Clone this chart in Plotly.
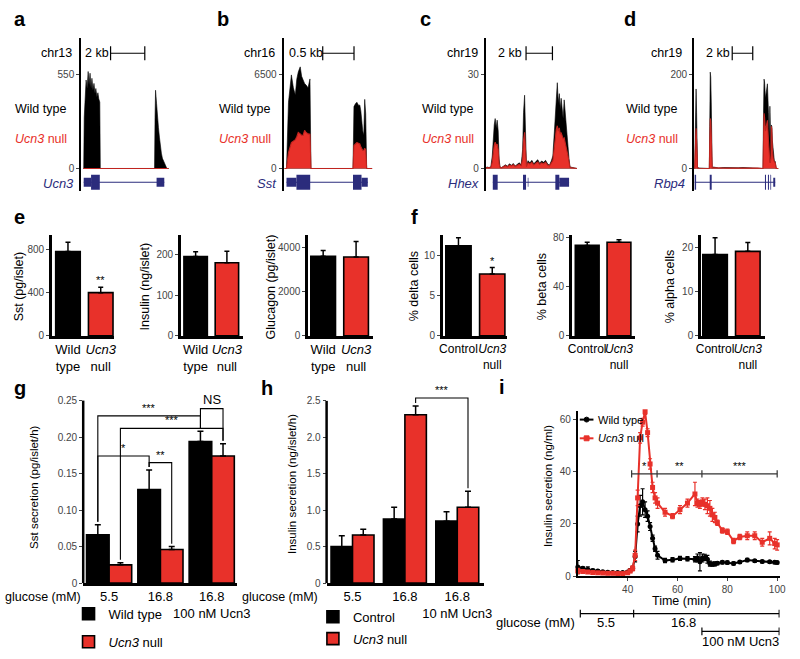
import plotly.graph_objects as go

W, H = 800, 659
FONT = 'Liberation Sans, Arial, Helvetica, sans-serif'
RED = '#e8312a'
NAVY = '#2b2c7c'
GRAY = '#444444'

# ---------------- data ----------------
# a-d: islet RNA-seq coverage, rows = (position in kb, wild type, Ucn3 null)
a_cov = [
    (0.0, 0, 0), (0.03, 0, 0), (0.06, 300, 0), (0.11, 430, 0), (0.17, 520, 0),
    (0.23, 470, 0), (0.29, 570, 0), (0.34, 490, 0), (0.40, 560, 0), (0.46, 470, 0),
    (0.51, 530, 0), (0.57, 460, 0), (0.63, 500, 0), (0.69, 440, 0), (0.74, 470, 0),
    (0.80, 420, 0), (0.86, 445, 0), (0.91, 410, 0), (0.97, 390, 0), (1.00, 0, 0),
    (4.17, 0, 0), (4.20, 300, 0), (4.23, 460, 0), (4.29, 380, 0), (4.34, 300, 0),
    (4.40, 240, 0), (4.46, 180, 0), (4.51, 130, 0), (4.57, 90, 0), (4.63, 60, 0),
    (4.69, 45, 0), (4.74, 30, 0), (4.80, 15, 0), (4.89, 0, 0), (5.00, 0, 0),
]
b_cov = [
    (0.0, 0, 0), (0.031, 0, 0), (0.0625, 4600, 1100), (0.086, 5500, 1500),
    (0.109, 6500, 1800), (0.141, 5600, 1900), (0.172, 5100, 2000), (0.195, 6200, 2200),
    (0.219, 6700, 2500), (0.25, 7060, 2400), (0.273, 6400, 2300), (0.297, 6150, 2300),
    (0.32, 5900, 2650), (0.344, 5800, 2500), (0.375, 5600, 2400), (0.406, 6220, 2380),
    (0.422, 0, 0), (1.094, 0, 0), (1.109, 4300, 1600), (1.133, 4500, 1700),
    (1.156, 4600, 1800), (1.18, 4400, 1750), (1.203, 4400, 1700), (1.219, 4000, 1500),
    (1.234, 3200, 1300), (1.25, 2600, 1250), (1.266, 2300, 1250), (1.281, 4800, 1400),
    (1.297, 3800, 1300), (1.3125, 0, 0), (1.40, 0, 0),
]
c_cov = [
    (0.0, 0, 0), (0.07, 0.5, 0.3), (0.22, 0.3, 0.2), (0.37, 0.5, 0.3), (0.48, 4, 2),
    (0.56, 11, 6), (0.63, 14, 7.5), (0.70, 16, 8.4), (0.78, 13, 7.5), (0.85, 15.5, 7.8),
    (0.93, 12, 6), (1.0, 3, 1.5), (1.07, 0.5, 0.3), (1.19, 0.3, 0.2), (1.33, 0.8, 0.6),
    (1.48, 1.2, 0.9), (1.63, 0.7, 0.5), (1.78, 1.5, 1.1), (1.93, 1, 0.8), (2.07, 1.6, 1.2),
    (2.22, 0.8, 0.6), (2.37, 1.3, 1.0), (2.52, 1.8, 1.3), (2.67, 1.2, 0.9), (2.78, 6, 3),
    (2.85, 18, 9), (2.93, 23.5, 11.6), (3.0, 12, 6), (3.07, 1, 0.6), (3.19, 2.5, 1.8),
    (3.33, 1.8, 1.4), (3.48, 2.6, 2.0), (3.63, 1.5, 1.1), (3.78, 2.2, 1.7), (3.93, 2.8, 2.1),
    (4.07, 1.7, 1.3), (4.22, 2.4, 1.8), (4.37, 2.0, 1.5), (4.52, 2.6, 2.0), (4.67, 1.5, 1.1),
    (4.81, 1.0, 0.8), (4.96, 2.5, 1.8), (5.07, 4, 2.5), (5.19, 12, 7), (5.26, 19, 11),
    (5.33, 22, 12.5), (5.41, 27.5, 13.7), (5.48, 21, 12), (5.56, 24, 13), (5.63, 19, 11),
    (5.7, 22.5, 11.5), (5.78, 20, 10.5), (5.85, 16, 9.5), (5.93, 22, 9.8), (6.0, 18, 8.5),
    (6.07, 15, 7.5), (6.15, 10, 6), (6.22, 7, 4), (6.3, 3, 2), (6.37, 0.5, 0.3), (6.9, 0, 0),
]
d_cov = [
    (0.0, 0, 0), (0.05, 0, 0), (0.095, 60, 30), (0.14, 150, 80), (0.19, 170, 86),
    (0.24, 120, 60), (0.29, 40, 20), (0.33, 2, 1), (0.48, 1, 0.5), (0.95, 0.5, 0.3),
    (1.48, 0, 0), (1.52, 90, 50), (1.57, 206, 107), (1.62, 195, 100), (1.67, 140, 70),
    (1.71, 40, 20), (1.76, 2, 1), (1.9, 3, 1.5), (2.38, 1, 0.5), (2.86, 2, 1),
    (3.33, 1.5, 0.8), (3.81, 2, 1), (4.29, 1.5, 0.8), (4.76, 2, 1), (5.24, 1.5, 0.8),
    (5.71, 2, 1), (6.19, 2, 1), (6.71, 0, 0), (6.76, 120, 70), (6.81, 191, 118),
    (6.86, 185, 110), (6.95, 150, 80), (7.05, 170, 90), (7.14, 181, 103), (7.24, 120, 60),
    (7.33, 60, 13), (7.38, 133, 13), (7.43, 100, 13), (7.48, 40, 20), (7.52, 93, 90),
    (7.57, 90, 85), (7.62, 60, 40), (7.71, 30, 20), (7.81, 17, 15), (7.9, 15, 12),
    (8.0, 0, 0), (8.2, 0, 0),
]
# gene models: (start kb, end kb, kind)
a_exons = [(0.03, 0.46, 'utr'), (0.46, 0.97, 'cds'), (4.29, 4.74, 'utr')]
b_exons = [(0.031, 0.19, 'utr'), (0.19, 0.41, 'cds'), (1.094, 1.23, 'cds'), (1.23, 1.33, 'utr')]
c_exons = [(0.52, 0.89, 'cds'), (2.81, 3.04, 'cds'), (3.17, 3.22, 'utr'),
           (5.26, 5.56, 'cds'), (5.56, 6.3, 'utr')]
d_exons = [(0.05, 0.19, 'cds'), (1.52, 1.71, 'cds'), (6.9, 7.0, 'cds'), (7.19, 7.29, 'cds'),
           (7.43, 7.5, 'cds'), (7.71, 7.9, 'utr')]
track_max = [550, 6500, 30, 200]
track_chrom = ['chr13', 'chr16', 'chr19', 'chr19']
track_gene = ['Ucn3', 'Sst', 'Hhex', 'Rbp4']
scale_bars = [(1.6, 2.0, '2 kb'), (0.61, 0.5, '0.5 kb'), (3.04, 2.0, '2 kb'), (3.71, 2.0, '2 kb')]

# e: islet hormone content
labels_e = ['Wild<br>type', '<i>Ucn3</i><br>null']
sst_content = [780, 400]
sst_content_err = [85, 50]
sst_content_sig = ['', '**']
insulin_content = [195, 180]
insulin_content_err = [12, 28]
glucagon_content = [3580, 3550]
glucagon_content_err = [270, 700]

# f: islet cell composition
labels_f = ['Control', '<i>Ucn3</i><br>null']
delta_pct = [11.2, 7.7]
delta_pct_err = [1.0, 0.8]
delta_pct_sig = ['', '*']
beta_pct = [73.5, 76.0]
beta_pct_err = [2.5, 2.0]
alpha_pct = [18.4, 19.1]
alpha_pct_err = [3.8, 2.0]

# g: somatostatin secretion
g_conditions = ['5.5', '16.8', '16.8<br>100 nM Ucn3']
g_wt = [0.066, 0.128, 0.194]
g_wt_err = [0.014, 0.027, 0.014]
g_null = [0.025, 0.046, 0.174]
g_null_err = [0.003, 0.004, 0.017]
g_ticks = [0, 0.05, 0.10, 0.15, 0.20, 0.25]
g_tick_text = ['0', '0.05', '0.10', '0.15', '0.20', '0.25']
g_brackets = [  # (series, group) -> (series, group), bracket level, label
    (('wt', 0), ('wt', 2), 0.229, '***'),
    (('null', 0), ('null', 2), 0.212, '***'),
    (('wt', 0), ('wt', 1), 0.174, '*'),
    (('wt', 1), ('null', 1), 0.165, '**'),
    (('wt', 2), ('null', 2), 0.239, 'NS'),
]

# h: insulin secretion
h_conditions = ['5.5', '16.8', '16.8<br>10 nM Ucn3']
h_ctrl = [0.50, 0.88, 0.85]
h_ctrl_err = [0.15, 0.16, 0.13]
h_null = [0.66, 2.31, 1.04]
h_null_err = [0.08, 0.12, 0.22]
h_ticks = [0, 0.5, 1.0, 1.5, 2.0, 2.5]
h_tick_text = ['0', '0.5', '1.0', '1.5', '2.0', '2.5']
h_brackets = [(('null', 1), ('null', 2), 2.54, '***')]

# i: perifusion insulin secretion
i_time = [20, 22, 24, 26, 28, 30, 32, 34, 36, 38, 40,
          41, 42, 43, 44, 45, 46, 47, 48, 49, 50, 51, 52,
          55, 58, 61, 64, 67,
          68, 69, 70, 71, 72, 73, 74, 75, 76,
          78, 80, 82.5, 85, 88, 91, 94, 97, 99, 100]
i_wt = [3.5, 3.0, 2.6, 2.2, 2.0, 1.7, 1.5, 1.4, 1.4, 1.4, 1.6,
        2.2, 3.0, 7.5, 20, 27, 28.5, 25.5, 23, 19, 14.5, 10.5, 8,
        6.0, 6.3, 6.8, 6.7, 6.5,
        7.0, 5.5, 7.0, 7.2, 6.5, 4.8, 4.6, 4.7, 5.0,
        5.3, 5.2, 4.9, 5.4, 6.2, 5.9, 5.6, 5.5, 5.3, 5.2]
i_wt_err = [2.5, 0.6, 1.0, 0.5, 0.5, 0.4, 0.4, 0.4, 0.4, 0.4, 0.5,
            0.6, 0.8, 2.0, 3.0, 4.0, 5.0, 3.0, 2.0, 1.5, 1.2, 1.0, 1.5,
            0.8, 0.8, 0.8, 0.8, 1.0,
            1.5, 3.5, 1.5, 1.2, 1.5, 1.0, 0.8, 0.8, 0.6,
            0.6, 0.6, 0.6, 0.5, 0.6, 0.5, 0.5, 0.5, 0.5, 0.5]
i_null = [2.0, 1.8, 1.6, 1.4, 1.3, 1.2, 1.1, 1.1, 1.0, 1.0, 1.3,
          2.0, 3.0, 8.0, 30, 53, 59, 63, 55, 43, 34, 30, 28,
          24.5, 23, 25.5, 28, 31.5,
          28, 27.5, 28.5, 27.5, 27, 26, 23.5, 22.5, 20.5,
          17.5, 17, 13.5, 15, 15.5, 15.5, 13, 14.5, 12.5, 12]
i_null_err = [1.0, 0.5, 0.5, 0.4, 0.4, 0.4, 0.4, 0.4, 0.4, 0.4, 0.5,
              0.6, 1.0, 2.0, 3.0, 2.0, 1.5, 1.0, 1.5, 2.0, 2.0, 2.0, 2.0,
              1.5, 1.0, 1.5, 1.5, 4.5,
              1.5, 1.5, 1.5, 2.0, 3.0, 3.0, 2.5, 2.0, 1.0,
              1.0, 1.0, 1.0, 1.0, 1.5, 1.5, 1.5, 2.5, 2.0, 2.0]
i_sig_edges = [41.6, 51.8, 69.8, 100.0]
i_sig_labels = ['*', '**', '***']
i_sig_level = 39.2
glucose_edges = [21.0, 42.4, 100.8]
glucose_levels = ['5.5', '16.8']
glucose_label_t = [31.5, 62.5]
ucn3_span = [69.8, 100.8]


# ---------------- helpers ----------------
def X(p):
    return p / W


def Y(p):
    return 1 - p / H


def key(n, letter):
    return f'{letter}axis{n if n > 1 else ""}'


def ref(n, letter):
    return f'{letter}{n if n > 1 else ""}'


fig = go.Figure()
layout = {}
shapes = []
annos = []


def note(text, x, y, size=12.5, color='black', xanchor='center', yanchor='middle',
         xref='paper', yref='paper', angle=0, yshift=0):
    annos.append(dict(text=text, x=x, y=y, xref=xref, yref=yref, showarrow=False,
                      xanchor=xanchor, yanchor=yanchor, textangle=angle, yshift=yshift,
                      font=dict(family=FONT, size=size, color=color)))


def line(x0, y0, x1, y1, xref='paper', yref='paper', width=1.2, color='black'):
    shapes.append(dict(type='line', x0=x0, y0=y0, x1=x1, y1=y1, xref=xref, yref=yref,
                       line=dict(color=color, width=width)))


tick_font = dict(family=FONT, size=10, color=GRAY)

# ---------------- a-d genome tracks ----------------
track_rows = [a_cov, b_cov, c_cov, d_cov]
track_exons = [a_exons, b_exons, c_exons, d_exons]
track_dom = [(78, 168), (285, 377), (492, 586), (705, 792)]
track_origin = [(80, 17.5), (286, 64.0), (492, 13.5), (705, 10.5)]   # px of 0 kb, px per kb
track_text_x = [8, 217, 425, 633]
track_chr_right = [71, 278, 486, 695]
track_kb_left = [80, 288, 502, 715]
track_gene_right = [73, 280, 487, 698]
letters_top = ['a', 'b', 'c', 'd']
letters_top_x = [7, 215, 423, 631]

for i in range(4):
    n = i + 1
    T = track_max[i]
    rows = track_rows[i]
    pos = [r[0] for r in rows]
    wt = [r[1] for r in rows]
    nul = [r[2] for r in rows]
    o, s = track_origin[i]
    d0, d1 = track_dom[i]
    xr, yr = ref(n, 'x'), ref(n, 'y')
    fig.add_trace(go.Scatter(x=pos, y=wt, mode='lines', fill='tozeroy', fillcolor='black',
                             line=dict(color='black', width=0.6), showlegend=False,
                             xaxis=xr, yaxis=yr, hoverinfo='skip'))
    fig.add_trace(go.Scatter(x=pos, y=nul, mode='lines', fill='tozeroy', fillcolor=RED,
                             line=dict(color='#c0241f', width=1.1), showlegend=False,
                             xaxis=xr, yaxis=yr, hoverinfo='skip'))
    layout[key(n, 'x')] = dict(domain=[X(d0), X(d1)], range=[(d0 - o) / s, (d1 - o) / s],
                               visible=False, anchor=yr)
    layout[key(n, 'y')] = dict(domain=[Y(190), Y(35)], range=[-23 / 95 * T, 132 / 95 * T],
                               anchor=xr, showline=True, linecolor='black', linewidth=2,
                               tickvals=[0, T], ticktext=['0', str(T)], ticks='outside',
                               ticklen=3, tickcolor=GRAY, tickfont=tick_font,
                               showgrid=False, zeroline=False)
    # gene model
    gc = -14 / 95 * T
    exons = track_exons[i]
    line(exons[0][0], gc, exons[-1][1], gc, xref=xr, yref=yr, width=1.2, color=NAVY)
    for e0, e1, kind in exons:
        hh = (7.5 if kind == 'cds' else 4.5) / 95 * T
        shapes.append(dict(type='rect', x0=e0, x1=e1, y0=gc - hh, y1=gc + hh, xref=xr, yref=yr,
                           fillcolor=NAVY, line=dict(width=0)))
    # scale bar
    b0, blen, btxt = scale_bars[i]
    line(b0, Y(50), b0 + blen, Y(50), xref=xr, width=1.2)
    for bx in (b0, b0 + blen):
        line(bx, Y(43), bx, Y(57), xref=xr, width=1.2)
    note(track_chrom[i], X(track_chr_right[i]), Y(50), xanchor='right')
    note(btxt, X(track_kb_left[i]), Y(50), xanchor='left')
    note('Wild type', X(track_text_x[i]), Y(107), xanchor='left')
    note('<i>Ucn3</i> null', X(track_text_x[i]), Y(137), xanchor='left', color=RED)
    note('<i>%s</i>' % track_gene[i], X(track_gene_right[i]), Y(182), xanchor='right',
         color=NAVY, size=13)
    note('<b>%s</b>' % letters_top[i], X(letters_top_x[i]), Y(15), size=20, xanchor='left')

# ---------------- e, f small bar charts ----------------
small = [
    (5, sst_content, sst_content_err, sst_content_sig, labels_e, (48, 112), (-0.49, 1.42),
     929, [0, 400, 800], 'Sst (pg/islet)', 14, 13),
    (6, insulin_content, insulin_content_err, None, labels_e, (180, 243), (-0.47, 1.5),
     247, [0, 100, 200], 'Insulin (ng/islet)', 143, 13),
    (7, glucagon_content, glucagon_content_err, None, labels_e, (310, 376), (-0.46, 1.5),
     4523, [0, 2000, 4000], 'Glucagon (pg/islet)', 272, 13),
    (8, delta_pct, delta_pct_err, delta_pct_sig, labels_f, (448, 514), (-0.46, 1.45),
     12.5, [0, 5, 10], '% delta cells', 418, 12),
    (9, beta_pct, beta_pct_err, None, labels_f, (580, 645), (-0.48, 1.52),
     81.6, [0, 40, 80], '% beta cells', 549, 12),
    (10, alpha_pct, alpha_pct_err, None, labels_f, (712, 778), (-0.43, 1.54),
     22.7, [0, 10, 20], '% alpha cells', 680, 12),
]
for n, vals, errs, sig, labs, xd, xrng, ytop, yt, title, tx, lsize in small:
    xr, yr = ref(n, 'x'), ref(n, 'y')
    fig.add_trace(go.Bar(x=[0, 1], y=vals, width=0.75, marker=dict(color=['black', RED],
                         line=dict(color='black', width=1.6)),
                         error_y=dict(type='data', array=errs, arrayminus=[0, 0], symmetric=False,
                                      color='black', thickness=1.5, width=2.5),
                         showlegend=False, xaxis=xr, yaxis=yr))
    layout[key(n, 'x')] = dict(domain=[X(xd[0]), X(xd[1])], range=list(xrng), anchor=yr,
                               showline=True, linecolor='black', linewidth=2.5,
                               tickvals=[0, 1], ticktext=labs, ticks='',
                               tickfont=dict(family=FONT, size=lsize, color='black'),
                               tickangle=0, showgrid=False, zeroline=False)
    layout[key(n, 'y')] = dict(domain=[Y(337), Y(235)], range=[0, ytop], anchor=xr,
                               showline=True, linecolor='black', linewidth=2.5,
                               tickvals=yt, ticks='outside', ticklen=3, tickcolor=GRAY,
                               tickfont=tick_font, showgrid=False, zeroline=False)
    note(title, X(tx), Y(287), size=12.5, angle=-90)
    if sig:
        for k, sg in enumerate(sig):
            if sg:
                note(sg, k, vals[k] + errs[k], size=11, xref=xr, yref=yr, yshift=7)

note('<b>e</b>', X(7), Y(216), size=20, xanchor='left')
note('<b>f</b>', X(413), Y(216), size=20, xanchor='left')

# ---------------- g, h grouped bar charts ----------------
grouped = [
    (11, g_conditions, g_wt, g_wt_err, g_null, g_null_err, 'Wild type', 'legend',
     (80, 237), (-0.505, 2.486), 0.44, 0.27, 0.25, 741.2, g_ticks, g_tick_text, g_brackets,
     'Sst secretion (pg/islet/h)', 29, 490, 80, 0.004),
    (12, h_conditions, h_ctrl, h_ctrl_err, h_null, h_null_err, 'Control', 'legend2',
     (329, 490), (-0.495, 2.51), 0.41, 2.75, 2.5, 74.0, h_ticks, h_tick_text, h_brackets,
     'Insulin secretion (ng/islet/h)', 293, 487, 322, 0.04),
]
for (n, cond, v1, e1, v2, e2, name1, leg, xd, xrng, bw, ymax, yshow, ppu, yt, ytt,
     brackets, title, tx, ty, gx, gap) in grouped:
    xr, yr = ref(n, 'x'), ref(n, 'y')
    xs = list(range(len(cond)))
    fig.add_trace(go.Bar(x=xs, y=v1, width=bw, offset=-bw, name=name1, legend=leg,
                         legendgroup=leg + 'a',
                         marker=dict(color='black', line=dict(color='black', width=1.6)),
                         error_y=dict(type='data', array=e1, arrayminus=[0] * 3, symmetric=False,
                                      color='black', thickness=1.5, width=3),
                         xaxis=xr, yaxis=yr))
    fig.add_trace(go.Bar(x=xs, y=v2, width=bw, offset=0, name='<i>Ucn3</i> null', legend=leg,
                         legendgroup=leg + 'b',
                         marker=dict(color=RED, line=dict(color='black', width=1.6)),
                         error_y=dict(type='data', array=e2, arrayminus=[0] * 3, symmetric=False,
                                      color='black', thickness=1.5, width=3),
                         xaxis=xr, yaxis=yr))
    layout[key(n, 'x')] = dict(domain=[X(xd[0]), X(xd[1])], range=list(xrng), anchor=yr,
                               showline=True, linecolor='black', linewidth=2.5,
                               tickvals=xs, ticktext=cond, ticks='',
                               tickfont=dict(family=FONT, size=13, color='black'),
                               tickangle=0, showgrid=False, zeroline=False)
    layout[key(n, 'y')] = dict(domain=[Y(588), Y(588 - ymax * ppu)], range=[0, ymax],
                               anchor=xr, showline=False, tickvals=yt, ticktext=ytt,
                               ticks='outside', ticklen=3, tickcolor=GRAY, tickfont=tick_font,
                               showgrid=False, zeroline=False)
    shapes.append(dict(type='line', xref=xr + ' domain', yref=yr + ' domain', x0=0, x1=0,
                       y0=0, y1=yshow / ymax, line=dict(color='black', width=2.5)))
    series = {'wt': (v1, e1, -bw / 2), 'null': (v2, e2, bw / 2)}
    for (s0, g0), (s1, g1), lev, lab in brackets:
        va, ea, oa = series[s0]
        vb, eb, ob = series[s1]
        xa, xb = g0 + oa, g1 + ob
        path = 'M{},{} L{},{} L{},{} L{},{}'.format(xa, va[g0] + ea[g0] + gap, xa, lev,
                                                    xb, lev, xb, vb[g1] + eb[g1] + gap)
        shapes.append(dict(type='path', path=path, xref=xr, yref=yr,
                           line=dict(color='black', width=1.1)))
        note(lab, (xa + xb) / 2, lev, size=13 if lab == 'NS' else 11, xref=xr, yref=yr,
             yanchor='bottom')
    note(title, X(tx), Y(ty), size=11.5, angle=-90)
    note('glucose (mM)', X(gx), Y(602), size=12.5, xanchor='right')

note('<b>g</b>', X(7), Y(390), size=20, xanchor='left')
note('<b>h</b>', X(260), Y(390), size=20, xanchor='left')

# ---------------- i perifusion time course ----------------
fig.add_trace(go.Scatter(x=i_time, y=i_wt, mode='lines+markers', name='Wild type',
                         line=dict(color='black', width=2), marker=dict(symbol='circle', size=5),
                         error_y=dict(type='data', array=i_wt_err, color='black', thickness=1.2,
                                      width=2),
                         showlegend=False, cliponaxis=False, xaxis='x13', yaxis='y13'))
fig.add_trace(go.Scatter(x=i_time, y=i_null, mode='lines+markers', name='Ucn3 null',
                         line=dict(color=RED, width=2),
                         marker=dict(symbol='square', size=5, color=RED),
                         error_y=dict(type='data', array=i_null_err, color=RED, thickness=1.2,
                                      width=2),
                         showlegend=False, cliponaxis=False, xaxis='x13', yaxis='y13'))
layout['xaxis13'] = dict(domain=[X(586), X(792.5)], range=[20, 101], anchor='y13',
                         showline=True, linecolor='black', linewidth=2,
                         tickvals=[40, 60, 80, 100], ticks='outside', ticklen=3, tickcolor=GRAY,
                         tickfont=dict(family=FONT, size=10, color=GRAY),
                         showgrid=False, zeroline=False)
layout['yaxis13'] = dict(domain=[Y(581), Y(413)], range=[0, 63.4], anchor='x13',
                         showline=True, linecolor='black', linewidth=2,
                         tickvals=[0, 20, 40, 60], ticks='outside', ticklen=3, tickcolor=GRAY,
                         tickfont=dict(family=FONT, size=10, color=GRAY),
                         showgrid=False, zeroline=False)
# in-plot key for panel i
for ky, col, sym, txt in [(422, 'black', 'circle', 'Wild type'),
                          (441, RED, 'rect', '<i>Ucn3</i> null')]:
    line(X(588), Y(ky), X(602), Y(ky), width=2, color=col)
    shapes.append(dict(type=sym, x0=X(592.5), x1=X(597.5), y0=Y(ky + 2.5), y1=Y(ky - 2.5),
                       xref='paper', yref='paper', fillcolor=col, line=dict(color=col, width=1)))
    note(txt, X(605), Y(ky), size=11, xanchor='left')

for k, lab in enumerate(i_sig_labels):
    a, b = i_sig_edges[k], i_sig_edges[k + 1]
    line(a, i_sig_level, b, i_sig_level, xref='x13', yref='y13', width=1.2, color='#333333')
    note(lab, (a + b) / 2, i_sig_level, size=11, xref='x13', yref='y13', yanchor='bottom')
for e in i_sig_edges:
    line(e, i_sig_level - 1.4, e, i_sig_level + 1.4, xref='x13', yref='y13', width=1.2,
         color='#333333')
# glucose / Ucn3 timeline under the time axis
for k, lev in enumerate(glucose_levels):
    a, b = glucose_edges[k], glucose_edges[k + 1]
    line(a, Y(619), b, Y(619), xref='x13', width=1.2)
    note(lev, glucose_label_t[k], Y(628), size=13, xref='x13')
for e in glucose_edges:
    line(e, Y(615), e, Y(623), xref='x13', width=1.2)
line(ucn3_span[0], Y(637), ucn3_span[1], Y(637), xref='x13', width=1.2)
for e in ucn3_span:
    line(e, Y(633), e, Y(641), xref='x13', width=1.2)
note('100 nM Ucn3', (ucn3_span[0] + ucn3_span[1]) / 2, Y(647), size=13, xref='x13')
note('glucose (mM)', X(585), Y(628), size=13, xanchor='right')
note('Time (min)', X(692), Y(606), size=12.5)
note('Insulin secretion (ng/ml)', X(555), Y(490), size=11.5, angle=-90)
note('<b>i</b>', X(503), Y(389), size=20, xanchor='left')

legend_common = dict(xanchor='left', yanchor='top', bgcolor='rgba(0,0,0,0)', itemwidth=30,
                     borderwidth=0, font=dict(family=FONT, size=13))
layout.update(
    width=W, height=H, margin=dict(l=0, r=0, t=0, b=0),
    paper_bgcolor='white', plot_bgcolor='white', barmode='overlay',
    font=dict(family=FONT, size=12, color='black'),
    showlegend=True,
    legend=dict(x=X(65), y=Y(604), tracegroupgap=8, **legend_common),
    legend2=dict(x=X(315), y=Y(607), tracegroupgap=2, **legend_common),
    shapes=shapes, annotations=annos,
)
fig.update_layout(**layout)
fig.write_html('out.html', config={'displayModeBar': False},
               post_script="document.body.style.margin='0';document.body.style.overflow='hidden';")
